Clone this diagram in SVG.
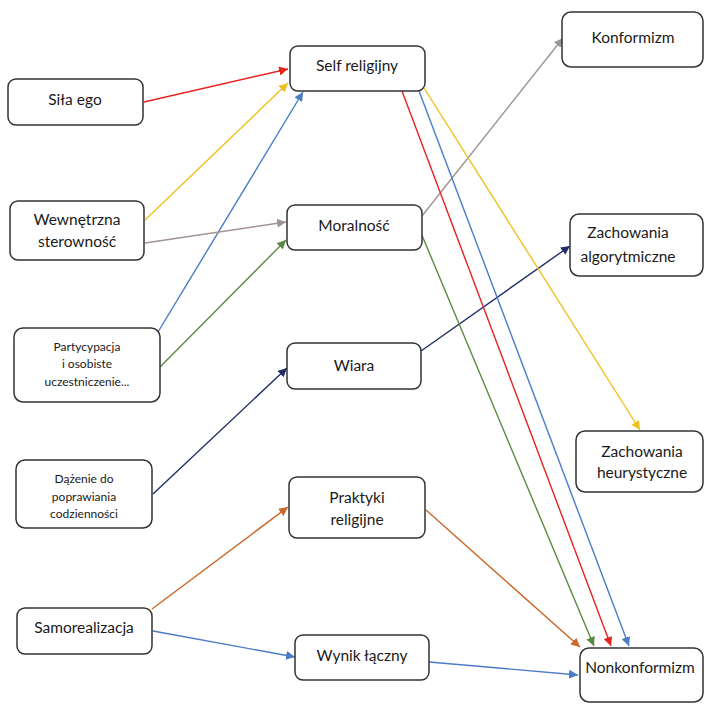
<svg xmlns="http://www.w3.org/2000/svg" width="705" height="704" viewBox="0 0 705 704">
<style>
.box{fill:#fff;stroke:#333;stroke-width:1.5}
.t{font-family:Lato,"Open Sans","Liberation Sans",sans-serif;font-size:15.5px;fill:#1a1a1a;text-anchor:middle}
.s{font-size:12px}
.c{fill:none;stroke-width:1.4}
</style>
<defs>
<marker id="mRed" viewBox="0 0 10 10" refX="10" refY="5" markerWidth="9" markerHeight="9" markerUnits="userSpaceOnUse" orient="auto"><path d="M0,0L10,5L0,10z" fill="#e52420"/></marker>
<marker id="mYel" viewBox="0 0 10 10" refX="10" refY="5" markerWidth="9" markerHeight="9" markerUnits="userSpaceOnUse" orient="auto"><path d="M0,0L10,5L0,10z" fill="#f0c020"/></marker>
<marker id="mBlu" viewBox="0 0 10 10" refX="10" refY="5" markerWidth="9" markerHeight="9" markerUnits="userSpaceOnUse" orient="auto"><path d="M0,0L10,5L0,10z" fill="#4a7cc8"/></marker>
<marker id="mGry" viewBox="0 0 10 10" refX="10" refY="5" markerWidth="9" markerHeight="9" markerUnits="userSpaceOnUse" orient="auto"><path d="M0,0L10,5L0,10z" fill="#9c9592"/></marker>
<marker id="mGrn" viewBox="0 0 10 10" refX="10" refY="5" markerWidth="9" markerHeight="9" markerUnits="userSpaceOnUse" orient="auto"><path d="M0,0L10,5L0,10z" fill="#5a8a40"/></marker>
<marker id="mNav" viewBox="0 0 10 10" refX="10" refY="5" markerWidth="9" markerHeight="9" markerUnits="userSpaceOnUse" orient="auto"><path d="M0,0L10,5L0,10z" fill="#1f2d66"/></marker>
<marker id="mOrg" viewBox="0 0 10 10" refX="10" refY="5" markerWidth="9" markerHeight="9" markerUnits="userSpaceOnUse" orient="auto"><path d="M0,0L10,5L0,10z" fill="#c8682a"/></marker>
</defs>
<rect width="705" height="704" fill="#fff"/>
<g id="connectors">
<line class="c" x1="144" y1="102" x2="288" y2="69" stroke="#e52420" marker-end="url(#mRed)"/>
<line class="c" x1="145" y1="220" x2="288" y2="83" stroke="#f0c020" marker-end="url(#mYel)"/>
<line class="c" x1="158" y1="332" x2="303" y2="92" stroke="#4a7cc8" marker-end="url(#mBlu)"/>
<line class="c" x1="145" y1="243" x2="286" y2="222" stroke="#a09592" marker-end="url(#mGry)"/>
<line class="c" x1="160" y1="367" x2="286" y2="240" stroke="#5a8a40" marker-end="url(#mGrn)"/>
<line class="c" x1="422" y1="216" x2="563" y2="38" stroke="#9c9592" marker-end="url(#mGry)"/>
<line class="c" x1="153" y1="494" x2="287" y2="368" stroke="#1f2d66" marker-end="url(#mNav)"/>
<line class="c" x1="421" y1="351" x2="570" y2="246" stroke="#1f2d66" marker-end="url(#mNav)"/>
<line class="c" x1="424" y1="88" x2="640" y2="430" stroke="#f0c020" marker-end="url(#mYel)"/>
<line class="c" x1="402" y1="91" x2="611" y2="646" stroke="#e52420" marker-end="url(#mRed)"/>
<line class="c" x1="419" y1="91" x2="629" y2="646" stroke="#4a7cc8" marker-end="url(#mBlu)"/>
<line class="c" x1="421" y1="233" x2="594" y2="646" stroke="#5a8a40" marker-end="url(#mGrn)"/>
<line class="c" x1="426" y1="510" x2="580" y2="647" stroke="#c8682a" marker-end="url(#mOrg)"/>
<line class="c" x1="152" y1="609" x2="288" y2="507" stroke="#c8682a" marker-end="url(#mOrg)"/>
<line class="c" x1="153" y1="631" x2="295" y2="657" stroke="#4a7cc8" marker-end="url(#mBlu)"/>
<line class="c" x1="429" y1="662" x2="578" y2="675" stroke="#4a7cc8" marker-end="url(#mBlu)"/>
</g>
<g id="sila-ego"><rect class="box" x="8" y="79" width="135" height="46" rx="8"/><text class="t" x="75" y="105">Siła ego</text></g>
<g id="wewnetrzna"><rect class="box" x="10" y="201" width="134" height="59" rx="8"/><text class="t" x="77" y="225">Wewnętrzna</text><text class="t" x="77" y="247">sterowność</text></g>
<g id="partycypacja"><rect class="box" x="14" y="328" width="146" height="74" rx="9"/><text class="t s" x="87" y="351">Partycypacja</text><text class="t s" x="87" y="368">i osobiste</text><text class="t s" x="87" y="386">uczestniczenie...</text></g>
<g id="dazenie"><rect class="box" x="16" y="460" width="136" height="68" rx="9"/><text class="t s" x="84" y="483">Dążenie do</text><text class="t s" x="84" y="501">poprawiania</text><text class="t s" x="84" y="518">codzienności</text></g>
<g id="samorealizacja"><rect class="box" x="17" y="608" width="135" height="46" rx="8"/><text class="t" x="84" y="633">Samorealizacja</text></g>
<g id="self-religijny"><rect class="box" x="290" y="46" width="135" height="45" rx="8"/><text class="t" x="357" y="71">Self religijny</text></g>
<g id="moralnosc"><rect class="box" x="287" y="205" width="135" height="45" rx="8"/><text class="t" x="354" y="231">Moralność</text></g>
<g id="wiara"><rect class="box" x="287" y="343" width="134" height="46" rx="8"/><text class="t" x="354" y="371">Wiara</text></g>
<g id="praktyki"><rect class="box" x="289" y="477" width="136" height="61" rx="8"/><text class="t" x="357" y="503">Praktyki</text><text class="t" x="357" y="525">religijne</text></g>
<g id="wynik"><rect class="box" x="295" y="635" width="134" height="45" rx="8"/><text class="t" x="362" y="661">Wynik łączny</text></g>
<g id="konformizm"><rect class="box" x="562" y="12" width="141" height="55" rx="9"/><text class="t" x="633" y="43">Konformizm</text></g>
<g id="algorytmiczne"><rect class="box" x="570" y="214" width="133" height="62" rx="9"/><text class="t" x="628" y="238">Zachowania</text><text class="t" x="628" y="262">algorytmiczne</text></g>
<g id="heurystyczne"><rect class="box" x="576" y="431" width="127" height="61" rx="9"/><text class="t" x="642" y="457">Zachowania</text><text class="t" x="642" y="478">heurystyczne</text></g>
<g id="nonkonformizm"><rect class="box" x="580" y="648" width="123" height="54" rx="9"/><text class="t" x="640" y="673">Nonkonformizm</text></g>
</svg>
